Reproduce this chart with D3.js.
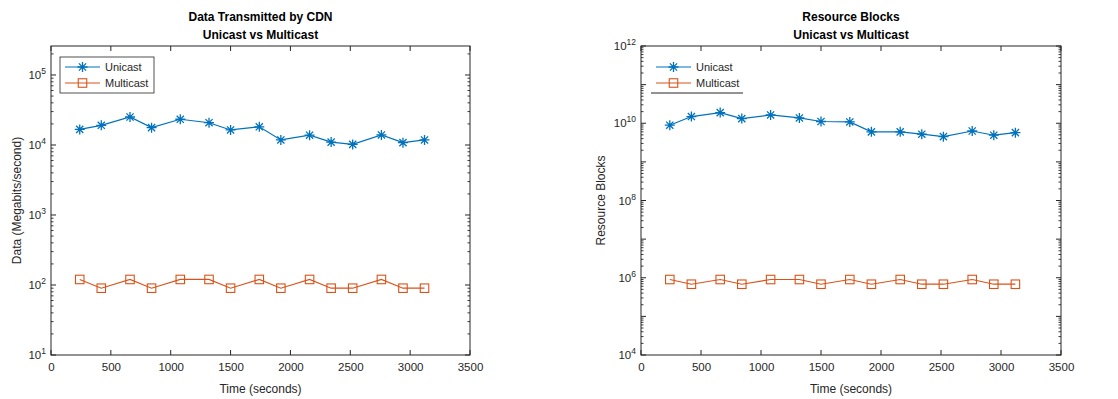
<!DOCTYPE html>
<html>
<head>
<meta charset="utf-8">
<script src="https://cdn.jsdelivr.net/npm/d3@7"></script>
<style>
  html, body { margin: 0; padding: 0; background: #fff; }
  svg { display: block; font-family: "Liberation Sans", Arial, Helvetica, sans-serif; }
</style>
</head>
<body>
<svg id="chart" width="1118" height="399"></svg>
<script>
// ---- data ----
const timeSeconds = [240, 420, 660, 840, 1080, 1320, 1500, 1740, 1920, 2160, 2340, 2520, 2760, 2940, 3120];
const dataUnicast = [16700, 19100, 25100, 17700, 23300, 20800, 16400, 18200, 11800, 13800, 11000, 10200, 13900, 10800, 11800];
const dataMulticast = [120, 90, 120, 90, 120, 120, 90, 120, 90, 120, 90, 90, 120, 90, 90];
const rbUnicast = [0.89e10, 1.49e10, 1.89e10, 1.32e10, 1.64e10, 1.37e10, 1.11e10, 1.08e10, 0.60e10, 0.60e10, 0.52e10, 0.45e10, 0.63e10, 0.49e10, 0.57e10];
const rbMulticast = [0.9e6, 0.68e6, 0.9e6, 0.68e6, 0.9e6, 0.9e6, 0.68e6, 0.9e6, 0.68e6, 0.9e6, 0.68e6, 0.68e6, 0.9e6, 0.68e6, 0.68e6];
const xTickValues = [0, 500, 1000, 1500, 2000, 2500, 3000, 3500];
const dataYExponents = [1, 2, 3, 4, 5];
const rbYExponents = [4, 6, 8, 10, 12];
const seriesNames = ["Unicast", "Multicast"];

const BLUE = "#0072BD", ORANGE = "#D95319", AX = "#262626";
const svg = d3.select("#chart");

function asterisk(g, x, y, color) {
  const r = 5;
  const p = d3.path();
  p.moveTo(x - r, y); p.lineTo(x + r, y);
  p.moveTo(x, y - r); p.lineTo(x, y + r);
  const d = r * 0.72;
  p.moveTo(x - d, y - d); p.lineTo(x + d, y + d);
  p.moveTo(x - d, y + d); p.lineTo(x + d, y - d);
  g.append("path").attr("d", p.toString()).attr("stroke", color).attr("stroke-width", 1.3).attr("fill", "none");
}
function square(g, x, y, color) {
  const s = 8.5;
  g.append("rect").attr("x", x - s / 2).attr("y", y - s / 2).attr("width", s).attr("height", s)
    .attr("stroke", color).attr("stroke-width", 1.1).attr("fill", "none");
}

function drawPanel(cfg) {
  const g = svg.append("g");
  const x = d3.scaleLinear().domain([0, 3500]).range([cfg.left, cfg.right]);
  const y = d3.scaleLog().domain(cfg.yDomain).range([cfg.bottom, cfg.top]);

  // frame
  g.append("rect").attr("x", cfg.left).attr("y", cfg.top)
    .attr("width", cfg.right - cfg.left).attr("height", cfg.bottom - cfg.top)
    .attr("fill", "none").attr("stroke", AX).attr("stroke-width", 1);

  // x ticks (bottom & top, inward)
  const xAxisB = d3.axisBottom(x).tickValues(xTickValues).tickSize(0).tickPadding(8).tickFormat(d3.format("d"));
  const xg = g.append("g").attr("transform", `translate(0,${cfg.bottom})`).call(xAxisB);
  xg.select(".domain").remove();
  xg.selectAll("text").attr("fill", AX).attr("font-size", 11.5).attr("font-family", "Liberation Sans, Arial, sans-serif");
  xTickValues.forEach(v => {
    g.append("line").attr("x1", x(v)).attr("x2", x(v)).attr("y1", cfg.bottom).attr("y2", cfg.bottom - 5).attr("stroke", AX);
    g.append("line").attr("x1", x(v)).attr("x2", x(v)).attr("y1", cfg.top).attr("y2", cfg.top + 5).attr("stroke", AX);
  });

  // y ticks: major and minor (log)
  const [lo, hi] = cfg.yDomain;
  const eLo = Math.floor(Math.log10(lo)), eHi = Math.ceil(Math.log10(hi));
  for (let e = eLo; e <= eHi; e++) {
    for (let m = 1; m <= 9; m++) {
      const v = m * Math.pow(10, e);
      if (v < lo * 0.9999 || v > hi * 1.0001) continue;
      const len = m === 1 ? 5 : 2.5;
      const yy = y(v);
      g.append("line").attr("x1", cfg.left).attr("x2", cfg.left + len).attr("y1", yy).attr("y2", yy).attr("stroke", AX).attr("stroke-width", m === 1 ? 1 : 0.9);
      g.append("line").attr("x1", cfg.right).attr("x2", cfg.right - len).attr("y1", yy).attr("y2", yy).attr("stroke", AX).attr("stroke-width", m === 1 ? 1 : 0.9);
    }
  }
  cfg.yExponents.forEach(e => {
    const t = g.append("text").attr("x", cfg.left - 5).attr("y", y(Math.pow(10, e)) + 4)
      .attr("text-anchor", "end").attr("fill", AX).attr("font-size", 11.5);
    t.append("tspan").text("10");
    t.append("tspan").attr("dy", -5).attr("font-size", 8.5).text(String(e));
  });

  // titles
  const cx = (cfg.left + cfg.right) / 2;
  g.append("text").attr("x", cx).attr("y", 21).attr("text-anchor", "middle").attr("font-weight", "bold")
    .attr("font-size", 12).attr("fill", "#000").text(cfg.title1);
  g.append("text").attr("x", cx).attr("y", 39).attr("text-anchor", "middle").attr("font-weight", "bold")
    .attr("font-size", 12).attr("fill", "#000").text(cfg.title2);
  g.append("text").attr("x", cx).attr("y", 393).attr("text-anchor", "middle")
    .attr("font-size", 12).attr("fill", AX).text("Time (seconds)");
  g.append("text").attr("transform", `translate(${cfg.yLabelX},${(cfg.top + cfg.bottom) / 2}) rotate(-90)`)
    .attr("text-anchor", "middle").attr("font-size", 12).attr("fill", AX).text(cfg.yLabel);

  // series
  const line = d3.line().x(d => x(d[0])).y(d => y(d[1]));
  const series = [
    { vals: cfg.s1, color: BLUE, marker: asterisk },
    { vals: cfg.s2, color: ORANGE, marker: square }
  ];
  series.forEach(s => {
    const pts = timeSeconds.map((t, i) => [t, s.vals[i]]);
    g.append("path").attr("d", line(pts)).attr("fill", "none").attr("stroke", s.color).attr("stroke-width", 1.2);
    pts.forEach(p => s.marker(g, x(p[0]), y(p[1]), s.color));
  });

  // legend
  const lx = cfg.legX, ly = cfg.legY;
  if (cfg.legBox) {
    g.append("rect").attr("x", lx).attr("y", ly).attr("width", 94).attr("height", 36)
      .attr("fill", "#fff").attr("stroke", AX).attr("stroke-width", 0.8);
  } else {
    g.append("line").attr("x1", lx).attr("x2", lx + 92).attr("y1", ly + 36).attr("y2", ly + 36)
      .attr("stroke", AX).attr("stroke-width", 1);
  }
  series.forEach((s, i) => {
    const yy = ly + 10 + i * 16;
    g.append("line").attr("x1", lx + 5).attr("x2", lx + 40).attr("y1", yy).attr("y2", yy)
      .attr("stroke", s.color).attr("stroke-width", 1.2);
    s.marker(g, lx + 22.5, yy, s.color);
    g.append("text").attr("x", lx + 45).attr("y", yy + 4).attr("font-size", 11).attr("fill", AX).text(seriesNames[i]);
  });
}

drawPanel({
  left: 51, right: 470, top: 46, bottom: 355,
  yDomain: [10, Math.pow(10, 5.414)], yExponents: dataYExponents,
  title1: "Data Transmitted by CDN", title2: "Unicast vs Multicast",
  yLabel: "Data (Megabits/second)", yLabelX: 21,
  s1: dataUnicast, s2: dataMulticast,
  legX: 60, legY: 57, legBox: true
});
drawPanel({
  left: 641, right: 1061, top: 46, bottom: 355,
  yDomain: [1e4, 1e12], yExponents: rbYExponents,
  title1: "Resource Blocks", title2: "Unicast vs Multicast",
  yLabel: "Resource Blocks", yLabelX: 605,
  s1: rbUnicast, s2: rbMulticast,
  legX: 651, legY: 57, legBox: false
});
</script>
</body>
</html>
